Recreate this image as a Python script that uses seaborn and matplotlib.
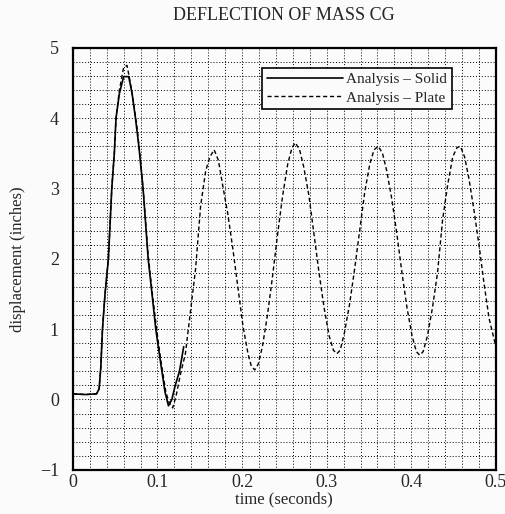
import pandas as pd
import matplotlib
matplotlib.use("Agg")
import matplotlib.pyplot as plt
import seaborn as sns
from matplotlib.ticker import MultipleLocator

# solid model trace (time s, displacement in)
solid_t = [0.000, 0.015, 0.028, 0.031, 0.033, 0.035, 0.038, 0.042, 0.046, 0.049,
           0.051, 0.055, 0.060, 0.066, 0.070, 0.074, 0.078, 0.083, 0.089, 0.094,
           0.098, 0.104, 0.109, 0.113, 0.117, 0.121, 0.126, 0.131]
solid_y = [0.08, 0.07, 0.08, 0.15, 0.45, 1.00, 1.50, 2.00, 3.00, 3.50,
           4.00, 4.35, 4.59, 4.59, 4.35, 4.00, 3.60, 3.00, 2.00, 1.45,
           1.00, 0.50, 0.10, -0.09, 0.00, 0.20, 0.40, 0.75]

# plate model trace
plate_t = [0.000, 0.015, 0.028, 0.031, 0.033, 0.035, 0.038, 0.042, 0.046, 0.049,
           0.051, 0.055, 0.060, 0.064, 0.068, 0.072, 0.076, 0.080, 0.084, 0.089,
           0.094, 0.099, 0.104, 0.110, 0.114, 0.118, 0.122, 0.127, 0.133,
           0.139, 0.145, 0.151, 0.157, 0.162, 0.167, 0.172, 0.177, 0.183, 0.189,
           0.195, 0.201, 0.207, 0.211, 0.215, 0.219, 0.224, 0.230, 0.236, 0.242,
           0.248, 0.254, 0.259, 0.263, 0.268, 0.273, 0.279, 0.285, 0.291, 0.297,
           0.303, 0.308, 0.312, 0.316, 0.321, 0.327, 0.333, 0.339, 0.345, 0.351,
           0.356, 0.361, 0.366, 0.371, 0.377, 0.383, 0.389, 0.395, 0.401, 0.406,
           0.410, 0.414, 0.419, 0.425, 0.431, 0.437, 0.443, 0.449, 0.454, 0.458,
           0.463, 0.468, 0.474, 0.480, 0.486, 0.492, 0.498, 0.500]
plate_y = [0.08, 0.07, 0.08, 0.15, 0.45, 1.00, 1.50, 2.00, 3.00, 3.50,
           4.00, 4.40, 4.72, 4.75, 4.50, 4.20, 3.85, 3.40, 2.85, 2.05,
           1.50, 1.00, 0.55, 0.10, -0.05, -0.12, 0.05, 0.35, 0.65,
           1.25, 1.85, 2.75, 3.25, 3.45, 3.55, 3.40, 3.05, 2.65, 2.15,
           1.60, 1.05, 0.65, 0.47, 0.42, 0.50, 0.75, 1.20, 1.75, 2.35,
           2.90, 3.35, 3.58, 3.65, 3.55, 3.30, 2.90, 2.35, 1.80, 1.30,
           0.90, 0.70, 0.65, 0.70, 0.95, 1.35, 1.85, 2.40, 2.95, 3.35,
           3.55, 3.60, 3.50, 3.25, 2.85, 2.35, 1.80, 1.30, 0.90, 0.68,
           0.63, 0.68, 0.90, 1.30, 1.80, 2.55, 3.05, 3.45, 3.58, 3.60,
           3.45, 3.15, 2.70, 2.20, 1.65, 1.15, 0.85, 0.75]

solid = pd.DataFrame({"t": solid_t, "y": solid_y})
plate = pd.DataFrame({"t": plate_t, "y": plate_y})

sns.set_theme(style="white")
plt.rcParams['font.family'] = ['Liberation Serif', 'DejaVu Serif']

fig = plt.figure(figsize=(5.06, 5.14), dpi=100, facecolor="#fbfbfb")
ax = fig.add_axes([0.144, 0.086, 0.836, 0.821])
ax.set_facecolor("#fbfbfb")

sns.lineplot(data=solid, x="t", y="y", ax=ax, color="black", linewidth=1.2,
             sort=False, estimator=None, label="Analysis \u2013 Solid")
sns.lineplot(data=plate, x="t", y="y", ax=ax, color="black", linewidth=1.0,
             linestyle=(0, (3, 2)), sort=False, estimator=None,
             label="Analysis \u2013 Plate")

ax.set_xlim(0, 0.5)
ax.set_ylim(-1, 5)
ax.xaxis.set_major_locator(MultipleLocator(0.1))
ax.xaxis.set_minor_locator(MultipleLocator(0.02))
ax.yaxis.set_major_locator(MultipleLocator(1))
ax.yaxis.set_minor_locator(MultipleLocator(0.2))
ax.set_xticks([0, 0.1, 0.2, 0.3, 0.4, 0.5], ["0", "0.1", "0.2", "0.3", "0.4", "0.5"])
ax.grid(which="both", color="black", linestyle=(0, (1, 2)), linewidth=0.7)
ax.tick_params(which="both", length=0, labelsize=13)
ax.tick_params(axis="y", pad=10)
ax.tick_params(axis="x", pad=3)
for s in ax.spines.values():
    s.set_color("black")
    s.set_linewidth(1.6)

ax.set_title("DEFLECTION OF MASS CG", fontsize=13, pad=20)
ax.set_xlabel("time (seconds)", fontsize=12, labelpad=0)
ax.set_ylabel("displacement (inches)", fontsize=12, labelpad=10)

leg = ax.legend(loc="upper right", bbox_to_anchor=(0.896, 0.952), fontsize=11,
                frameon=True, fancybox=False, handlelength=5.0, borderpad=0.3,
                labelspacing=0.3, handletextpad=0.2, borderaxespad=0)
leg.get_frame().set_edgecolor("black")
leg.get_frame().set_linewidth(1.2)
leg.get_frame().set_facecolor("#fbfbfb")
leg.get_frame().set_alpha(1)

fig.savefig("out.png", dpi=100, facecolor=fig.get_facecolor())
